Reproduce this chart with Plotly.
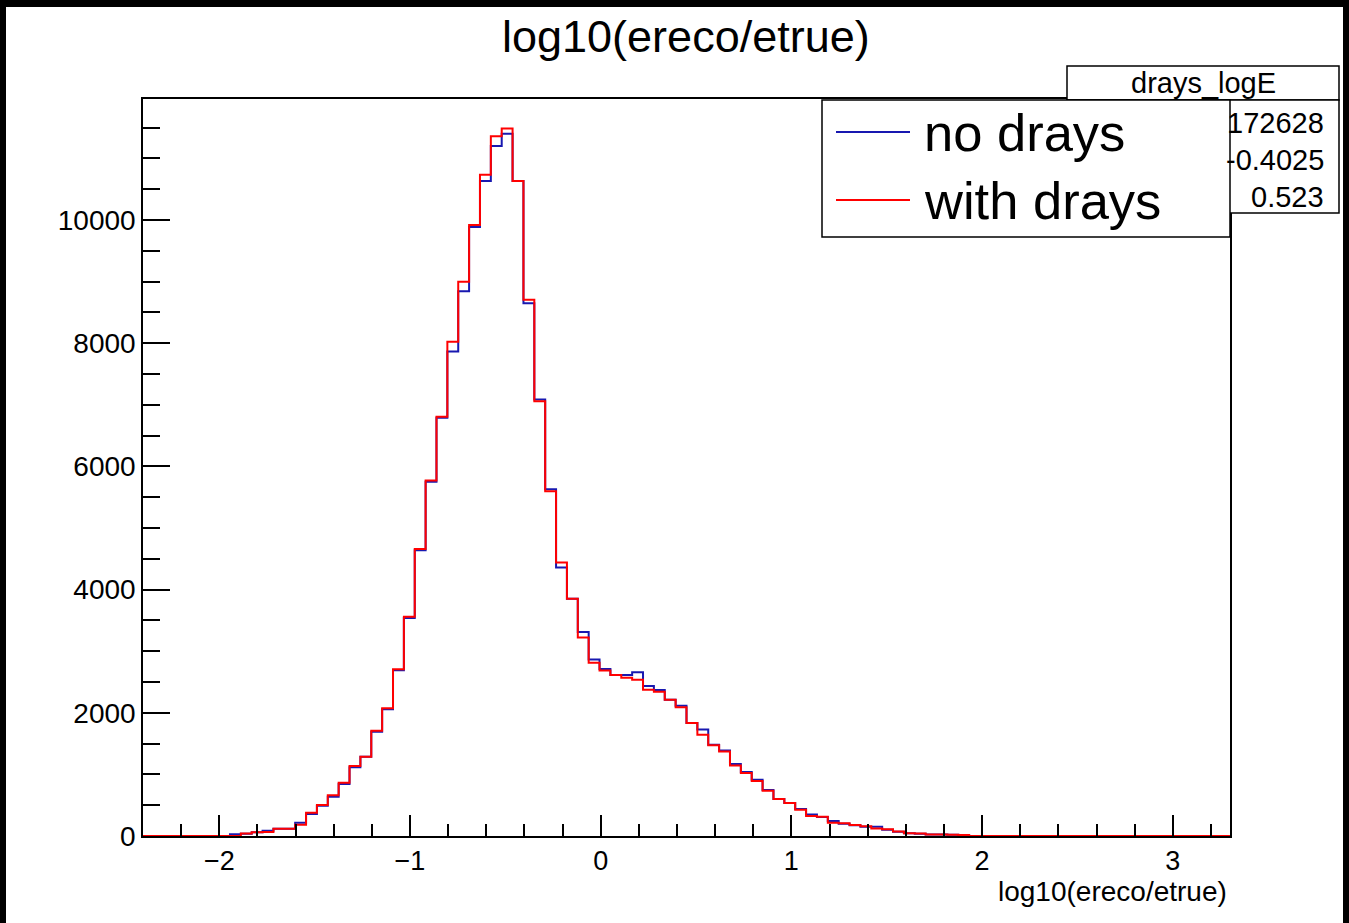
import numpy as np
import plotly.graph_objects as go

# ---------------- data ----------------
BIN_LO = -2.4
BIN_HI = 3.3
N_BINS = 100

# counts per bin (bins 0..99); bins not listed are zero
no_drays_nonzero = [  # bins 8..75
    30, 35, 60, 87, 119, 119, 216, 357, 490, 638, 844, 1115,
    1288, 1694, 2057, 2690, 3540, 4640, 5750, 6790, 7864, 8844,
    9886, 10635, 11203, 11400, 10633, 8650, 7088, 5630, 4360, 3850,
    3310, 2867, 2713, 2614, 2613, 2660, 2435, 2370, 2213, 2113,
    1835, 1731, 1480, 1390, 1168, 1040, 915, 746, 600, 535,
    440, 350, 310, 243, 200, 175, 150, 150, 100, 70, 45, 35, 25, 25, 20, 15,
]
with_drays_nonzero = [  # bins 8..75
    0, 40, 60, 65, 119, 119, 184, 379, 503, 660, 866, 1136,
    1288, 1710, 2073, 2706, 3560, 4660, 5770, 6808, 8024, 9000,
    9918, 10735, 11360, 11485, 10633, 8705, 7057, 5597, 4440, 3850,
    3222, 2813, 2686, 2614, 2570, 2538, 2375, 2340, 2213, 2090,
    1835, 1645, 1472, 1370, 1145, 1022, 893, 735, 600, 535,
    425, 325, 312, 216, 205, 180, 160, 120, 110, 75, 45, 40, 25, 25, 20, 15,
]
FIRST_BIN = 8

stats_name = "drays_logE"
stats_values = ["172628", "-0.4025", "0.523"]
y_max = 11965
x_ticks = [-2, -1, 0, 1, 2, 3]
y_ticks = [0, 2000, 4000, 6000, 8000, 10000]

# ---------------- build full histograms ----------------
def full(nonzero):
    arr = np.zeros(N_BINS)
    arr[FIRST_BIN:FIRST_BIN + len(nonzero)] = nonzero
    return arr

edges = np.linspace(BIN_LO, BIN_HI, N_BINS + 1)
h_no = full(no_drays_nonzero)
h_with = full(with_drays_nonzero)

def step_y(h):
    return np.append(h, h[-1])

W, H = 1349, 923
L, R, T, B = 143, 1230, 99, 836  # frame in pixels
FONT = "Liberation Sans, Arial, Helvetica, sans-serif"

def px(x):
    return (x - L) / (R - L)

def py(y):
    return (B - y) / (B - T)

fig = go.Figure()
fig.add_trace(go.Scatter(x=edges, y=step_y(h_no), mode="lines", line_shape="hv",
                         line=dict(color="#1818b0", width=2), name="no drays",
                         showlegend=False))
fig.add_trace(go.Scatter(x=edges, y=step_y(h_with), mode="lines", line_shape="hv",
                         line=dict(color="#ff0000", width=2), name="with drays",
                         showlegend=False))

shapes = []
# black border of the image
for x0, y0, x1, y1 in [(0, 0, W, 7), (0, 0, 6, H), (W - 6, 0, W, H)]:
    shapes.append(dict(type="rect", xref="paper", yref="paper",
                       x0=px(x0), x1=px(x1), y0=py(y0), y1=py(y1),
                       fillcolor="black", line=dict(width=0), layer="above"))
# stats box (title + body)
shapes.append(dict(type="rect", xref="paper", yref="paper",
                   x0=px(1067), x1=px(1339), y0=py(100), y1=py(66),
                   fillcolor="white", line=dict(color="black", width=1.5), layer="above"))
shapes.append(dict(type="rect", xref="paper", yref="paper",
                   x0=px(1067), x1=px(1339), y0=py(213), y1=py(100),
                   fillcolor="white", line=dict(color="black", width=1.5), layer="above"))
# legend box (covers stats labels)
shapes.append(dict(type="rect", xref="paper", yref="paper",
                   x0=px(822), x1=px(1230), y0=py(237), y1=py(100),
                   fillcolor="white", line=dict(color="black", width=1.5), layer="above"))
# legend samples
for yy, col in [(132, "#1818b0"), (200, "#ff0000")]:
    shapes.append(dict(type="line", xref="paper", yref="paper",
                       x0=px(836), x1=px(910), y0=py(yy), y1=py(yy),
                       line=dict(color=col, width=2), layer="above"))

annotations = []
annotations.append(dict(text="log10(ereco/etrue)", x=px(686), y=py(37), xref="paper", yref="paper",
                        showarrow=False, xanchor="center", yanchor="middle",
                        font=dict(family=FONT, size=45, color="black")))
annotations.append(dict(text="log10(ereco/etrue)", x=px(1229), y=py(891), xref="paper", yref="paper",
                        showarrow=False, xanchor="right", yanchor="middle",
                        font=dict(family=FONT, size=28, color="black")))
annotations.append(dict(text=stats_name, x=px(1203), y=py(83), xref="paper", yref="paper",
                        showarrow=False, xanchor="center", yanchor="middle",
                        font=dict(family=FONT, size=29, color="black")))
for v, yy in zip(stats_values, [123, 160, 197]):
    annotations.append(dict(text=v, x=px(1326), y=py(yy), xref="paper", yref="paper",
                            showarrow=False, xanchor="right", yanchor="middle",
                            font=dict(family=FONT, size=29, color="black")))
for t, yy in [("no drays", 132), ("with drays", 200)]:
    annotations.append(dict(text=t, x=px(922), y=py(yy), xref="paper", yref="paper",
                            showarrow=False, xanchor="left", yanchor="middle",
                            font=dict(family=FONT, size=52.5, color="black")))

fig.update_layout(
    width=W, height=H,
    margin=dict(l=L, r=W - R, t=T, b=H - B, pad=0),
    paper_bgcolor="white", plot_bgcolor="white",
    showlegend=False,
    shapes=shapes, annotations=annotations,
    xaxis=dict(range=[BIN_LO, BIN_HI], tickvals=x_ticks,
               ticktext=[str(v).replace("-", "\u2212") for v in x_ticks],
               ticks="inside", ticklen=21, tickwidth=1.5, tickcolor="black",
               minor=dict(dtick=0.2, tick0=0, ticks="inside", ticklen=12, tickwidth=1.5, tickcolor="black"),
               showgrid=False, zeroline=False, showline=True, mirror=True,
               linecolor="black", linewidth=1.5,
               tickfont=dict(family=FONT, size=27, color="black")),
    yaxis=dict(range=[0, y_max], tickvals=y_ticks, ticktext=[str(v) for v in y_ticks],
               ticks="inside", ticklen=27, tickwidth=1.5, tickcolor="black",
               minor=dict(dtick=500, tick0=0, ticks="inside", ticklen=17, tickwidth=1.5, tickcolor="black"),
               showgrid=False, zeroline=False, showline=True, mirror=True,
               linecolor="black", linewidth=1.5,
               tickfont=dict(family=FONT, size=28, color="black")),
)

fig.write_html("out.html", config={"displayModeBar": False},
               post_script="document.body.style.margin='0';document.body.style.overflow='hidden';")
